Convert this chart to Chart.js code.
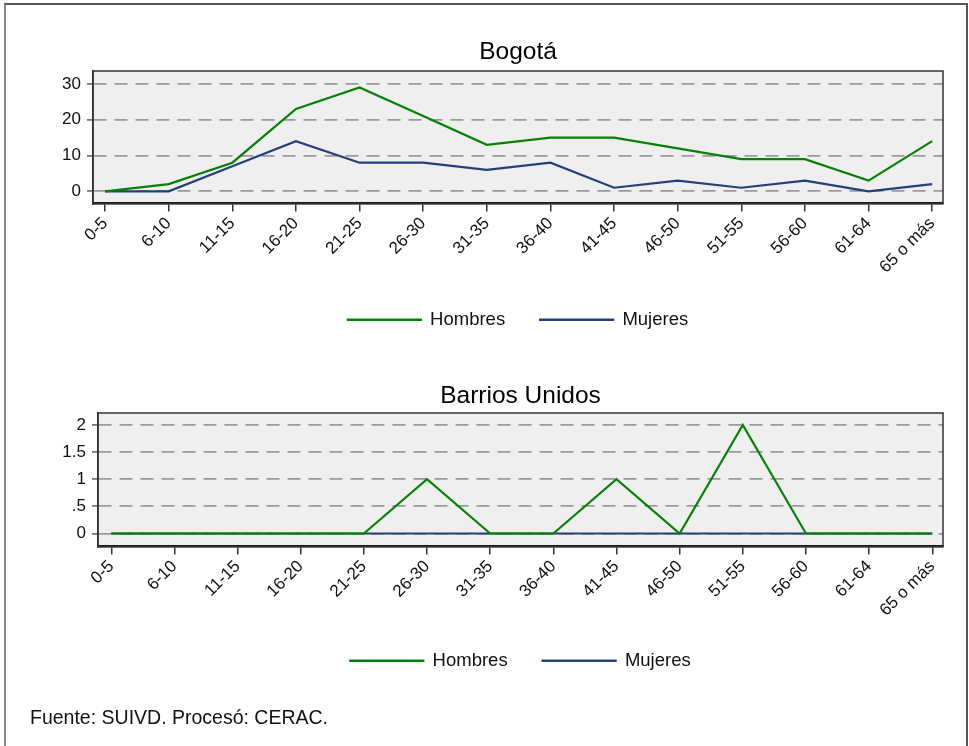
<!DOCTYPE html>
<html>
<head>
<meta charset="utf-8">
<script src="https://cdn.jsdelivr.net/npm/chart.js@4.4.0/dist/chart.umd.min.js"></script>
<style>
  body { margin: 0; background: #fff; font-family: "Liberation Sans", Arial, sans-serif; }
  .frame { position: absolute; left: 4px; top: 3px; width: 960px; height: 800px; border: 2px solid #555; border-left-color: #888; }
  .chart-box { position: absolute; left: 0; width: 969px; }
  #box_bogota { top: 30px; height: 340px; }
  #box_barrios { top: 375px; height: 335px; }
  .footnote { position: absolute; left: 30px; top: 706px; font-size: 19.5px; color: #111; }
</style>
</head>
<body>
<div class="frame"></div>
<div class="chart-box" id="box_bogota"><canvas id="chart_bogota"></canvas></div>
<div class="chart-box" id="box_barrios"><canvas id="chart_barrios"></canvas></div>
<div class="footnote">Fuente: SUIVD. Procesó: CERAC.</div>

<script>
var age_groups = ["0-5", "6-10", "11-15", "16-20", "21-25", "26-30", "31-35",
  "36-40", "41-45", "46-50", "51-55", "56-60", "61-64", "65 o más"];

var bogota_hombres = [0, 2, 8, 23, 29, 21, 13, 15, 15, 12, 9, 9, 3, 14];
var bogota_mujeres = [0, 0, 7, 14, 8, 8, 6, 8, 1, 3, 1, 3, 0, 2];
var bogota_ticks = [0, 10, 20, 30];

var barrios_hombres = [0, 0, 0, 0, 0, 1, 0, 0, 1, 0, 2, 0, 0, 0];
var barrios_mujeres = [0, 0, 0, 0, 0, 0, 0, 0, 0, 0, 0, 0, 0, 0];
var barrios_ticks = [0, 0.5, 1, 1.5, 2];
var barrios_tick_labels = ["0", ".5", "1", "1.5", "2"];

var color_hombres = "#058205";
var color_mujeres = "#253f7a";

// grey plot background + thin frame round the plot area
var plotFrame = {
  id: "plotFrame",
  beforeDraw: function(chart) {
    var a = chart.chartArea;
    var ctx = chart.ctx;
    ctx.save();
    ctx.fillStyle = "#efefef";
    ctx.fillRect(a.left, a.top, a.right - a.left, a.bottom - a.top);
    ctx.restore();
  },
  afterDraw: function(chart) {
    var a = chart.chartArea;
    var ctx = chart.ctx;
    ctx.save();
    ctx.strokeStyle = "#333";
    ctx.lineWidth = 1.5;
    ctx.strokeRect(a.left, a.top, a.right - a.left, a.bottom - a.top);
    ctx.restore();
  }
};

function toPoints(values) {
  return values.map(function(v, i) { return { x: i, y: v }; });
}

function makeChart(canvasId, title, hombres, mujeres, opts) {
  var ctx = document.getElementById(canvasId).getContext("2d");
  return new Chart(ctx, {
    type: "line",
    data: {
      datasets: [{
        label: "Hombres",
        data: toPoints(hombres),
        borderColor: color_hombres,
        backgroundColor: color_hombres,
        borderWidth: 2.2,
        pointRadius: 0,
        tension: 0
      }, {
        label: "Mujeres",
        data: toPoints(mujeres),
        borderColor: color_mujeres,
        backgroundColor: color_mujeres,
        borderWidth: 2.2,
        pointRadius: 0,
        tension: 0
      }]
    },
    plugins: [plotFrame],
    options: {
      responsive: true,
      maintainAspectRatio: false,
      animation: false,
      layout: { padding: { left: 0, right: 26, top: 0, bottom: opts.padBottom } },
      plugins: {
        title: {
          display: true,
          fullSize: false,
          text: title,
          color: "#000",
          font: { family: "Liberation Sans", size: 24.5, weight: "normal" },
          padding: { top: opts.titleTop, bottom: opts.titleGap }
        },
        legend: {
          position: "bottom",
          fullSize: false,
          labels: {
            boxWidth: 73,
            boxHeight: 0.5,
            padding: 35,
            color: "#111",
            font: { family: "Liberation Sans", size: 18.5 }
          }
        },
        tooltip: { enabled: false }
      },
      scales: {
        x: {
          type: "linear",
          min: opts.xMin,
          max: 13.17,
          afterBuildTicks: function(scale) {
            scale.ticks = age_groups.map(function(g, i) { return { value: i }; });
          },
          afterFit: function(scale) { scale.height = opts.xHeight; },
          ticks: {
            autoSkip: false,
            maxRotation: 45,
            minRotation: 45,
            padding: 2,
            color: "#111",
            font: { family: "Liberation Sans", size: 17 },
            callback: function(value) { return age_groups[value]; }
          },
          grid: { drawOnChartArea: false, drawTicks: true, tickLength: 8, color: "#333", lineWidth: 1.5 },
          border: { display: true, color: "#111", width: 2.5 }
        },
        y: {
          min: opts.yMin,
          max: opts.yMax,
          afterBuildTicks: function(scale) {
            scale.ticks = opts.yTicks.map(function(v) { return { value: v }; });
          },
          afterFit: function(scale) { scale.width = opts.yWidth; },
          ticks: {
            padding: 6,
            color: "#111",
            font: { family: "Liberation Sans", size: 17 },
            callback: function(value) {
              var i = opts.yTicks.indexOf(value);
              return opts.yLabels ? opts.yLabels[i] : String(value);
            }
          },
          grid: {
            color: "#9a9a9a",
            lineWidth: 1.8,
            tickLength: 6,
            tickColor: "#777",
            tickBorderDash: []
          },
          border: { display: true, color: "#222", width: 1.5, dash: [13, 8] }
        }
      }
    }
  });
}

makeChart("chart_bogota", "Bogotá", bogota_hombres, bogota_mujeres, {
  padBottom: 31, titleTop: 8, titleGap: 3.6, xHeight: 72, yWidth: 93,
  xMin: -0.19, yMin: -3.4, yMax: 33.6, yTicks: bogota_ticks
});

makeChart("chart_barrios", "Barrios Unidos", barrios_hombres, barrios_mujeres, {
  padBottom: 30, titleTop: 7, titleGap: 1.6, xHeight: 70, yWidth: 98,
  xMin: -0.21, yMin: -0.24, yMax: 2.22, yTicks: barrios_ticks, yLabels: barrios_tick_labels
});
</script>
</body>
</html>
